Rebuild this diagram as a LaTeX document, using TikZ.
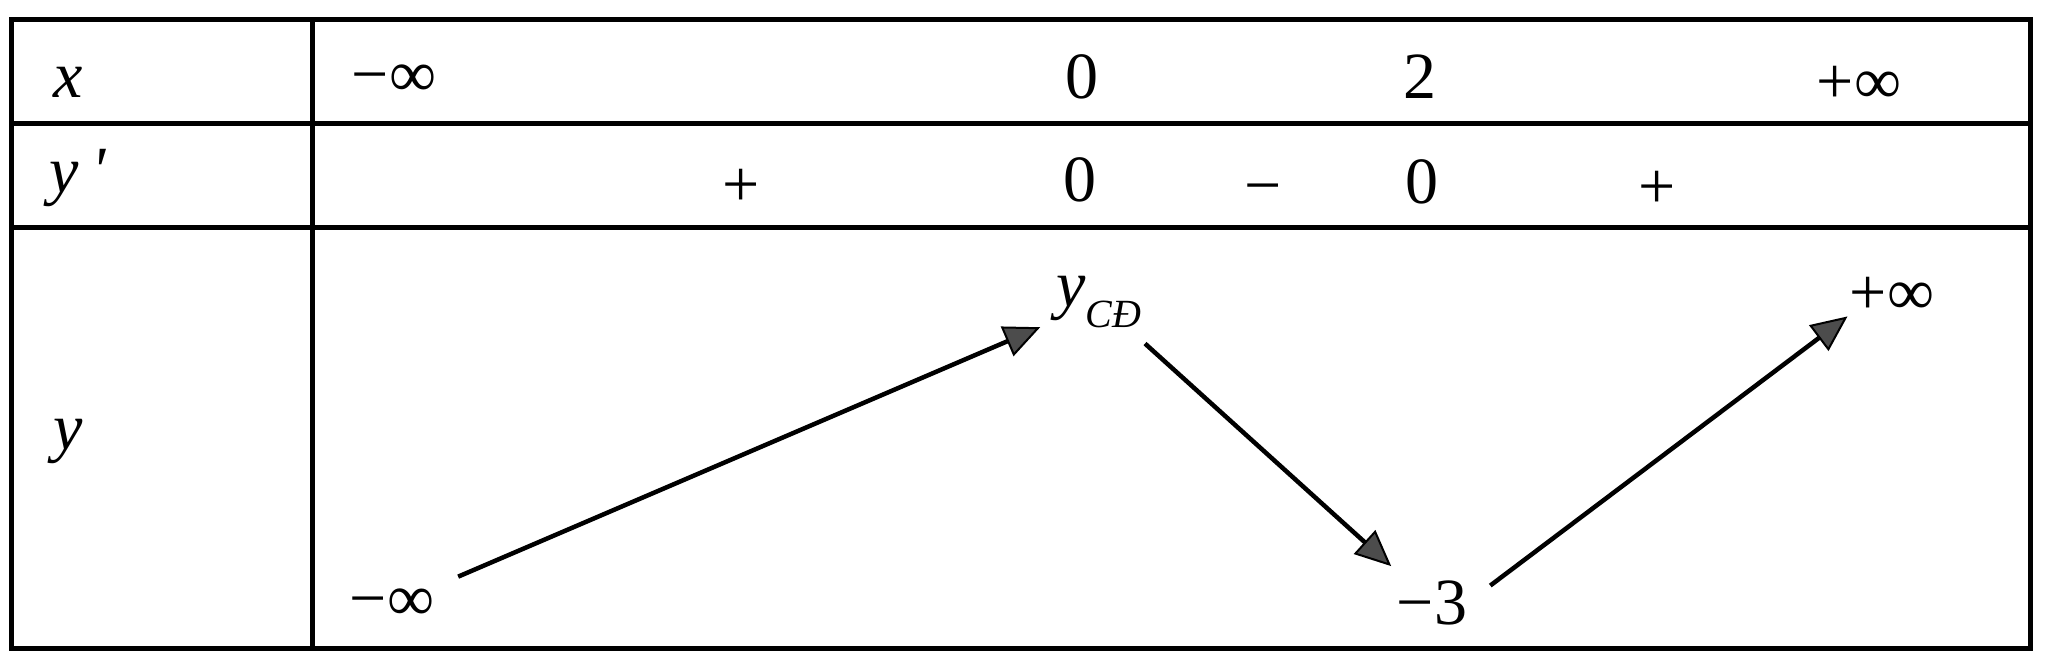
\documentclass[tikz,border=0pt]{standalone}
\usepackage{fontspec}
\setmainfont{Liberation Serif}
\usetikzlibrary{arrows.meta}
\begin{document}
\begin{tikzpicture}[x=1pt,y=-1pt,
  gridline/.style={line width=5pt},
  lbl/.style={inner sep=0pt, outer sep=0pt, anchor=center, font=\fontsize{66}{70}\selectfont},
  varrow/.style={line width=4.5pt, -{Triangle[length=36pt,width=32pt,fill=black!70,line width=2pt]}}]
\useasboundingbox (0,0) rectangle (2049,661);
% table frame
\draw[gridline] (11,20) rectangle (2030,648);
\draw[gridline] (312,20) -- (312,648);
\draw[gridline] (11,123) -- (2030,123);
\draw[gridline] (11,227) -- (2030,227);
% left column labels
\node[lbl] (lx) at (68,82) {\textit{x}};
\node[lbl] (lyp) at (78,178) {\textit{y\hspace{0.18em}\textquotesingle}};
\node[lbl] (ly) at (68,441) {\textit{y}};
% x row
\node[lbl] (xa) at (394,81) {−∞};
\node[lbl] (xb) at (1082,77) {0};
\node[lbl] (xc) at (1420,77) {2};
\node[lbl] (xd) at (1859,85) {+∞};
% y' row
\node[lbl] (sa) at (741,188) {+};
\node[lbl] (sb) at (1080,180) {0};
\node[lbl] (sc) at (1263,196) {−};
\node[lbl] (sd) at (1422,182) {0};
\node[lbl] (se) at (1657,190) {+};
% y row
\node[lbl] (ninf) at (392,605) {−∞};
\node[lbl] (ycd) at (1099,302) {\textit{y}\raisebox{-0.32em}{\fontsize{40}{42}\selectfont\textit{CĐ}}};
\node[lbl] (m3) at (1432,603) {−3};
\node[lbl] (pinf) at (1892,296) {+∞};
% variation arrows
\draw[varrow, shorten <=72pt, shorten >=64pt] (ninf.center) -- (ycd.center);
\draw[varrow, shorten <=62pt, shorten >=55pt] (ycd.center) -- (m3.center);
\draw[varrow, shorten <=29pt, shorten >=3pt] (m3.east) -- (pinf.south west);
\end{tikzpicture}
\end{document}
